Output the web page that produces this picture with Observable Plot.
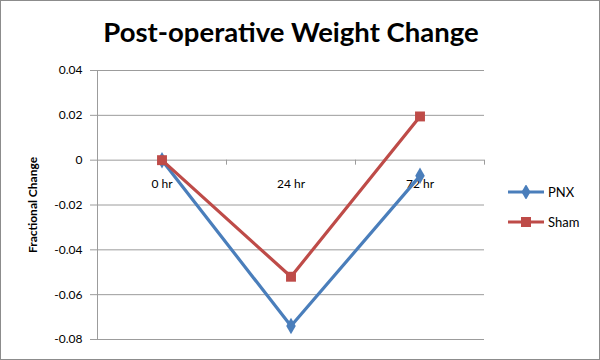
<!DOCTYPE html>
<html>
<head>
<meta charset="utf-8">
<script src="https://cdn.jsdelivr.net/npm/d3@7"></script>
<script src="https://cdn.jsdelivr.net/npm/@observablehq/plot@0.6"></script>
<style>
  html, body { margin: 0; padding: 0; background: #fff; }
  #wrap { position: relative; width: 600px; height: 360px; font-family: Lato, "Open Sans", sans-serif; }
  #border { position: absolute; left: 0; top: 0; width: 600px; height: 360px; box-sizing: border-box; border: 1px solid #8c8c8c; pointer-events: none; }
  #legend { position: absolute; left: 506px; top: 177px; font-size: 13px; color: #000; }
  #legend .item { display: flex; align-items: center; height: 30px; }
  #legend svg { margin-right: 2px; }
</style>
</head>
<body>
<div id="wrap">
  <div id="chart"></div>
  <div id="legend"></div>
  <div id="border"></div>
</div>
<script>
const categories = ["0 hr", "24 hr", "72 hr"];
const pnx = [0, -0.074, -0.007];
const sham = [0, -0.052, 0.0195];
const yTicks = [0.04, 0.02, 0, -0.02, -0.04, -0.06, -0.08];
const seriesNames = ["PNX", "Sham"];
const seriesColors = ["#4a7ebb", "#be4b48"];
const seriesSymbols = ["diamond", "square"];

const idx = categories.map((_, i) => i);
const boundaries = [-0.5, ...idx.map(i => i + 0.5)];
const rows = [];
[pnx, sham].forEach((vals, s) => vals.forEach((v, i) => rows.push({series: seriesNames[s], i, v})));

const gridColor = "#9c9c9c";

const plot = Plot.plot({
  width: 600,
  height: 360,
  marginLeft: 97,
  marginRight: 116,
  marginTop: 70,
  marginBottom: 21,
  style: {fontFamily: "Lato, 'Open Sans', sans-serif", background: "transparent"},
  x: {type: "linear", domain: [-0.5, 2.5], axis: null},
  y: {domain: [-0.08, 0.04], axis: null},
  marks: [
    Plot.ruleY(yTicks, {stroke: gridColor, strokeWidth: 1}),
    Plot.ruleX([boundaries[0]], {stroke: gridColor, strokeWidth: 1}),
    Plot.axisY({ticks: yTicks, tickFormat: d => d === 0 ? "0" : d.toFixed(2), tickSize: 7, tickPadding: 8, stroke: gridColor, fontSize: 12, color: "#000", label: null}),
    Plot.ruleX(boundaries, {x: d => d, y1: 0, y2: 0, insetBottom: -5, stroke: gridColor}),
    Plot.text(categories, {x: (d, i) => i, y: 0, text: d => d, dy: 24, fontSize: 12, fill: "#000"}),
    Plot.line(rows, {x: "i", y: "v", z: "series", stroke: d => seriesColors[seriesNames.indexOf(d.series)], strokeWidth: 3.2}),
    Plot.dot(rows.filter(d => d.series === "PNX"), {x: "i", y: "v", symbol: "diamond", r: 5, fill: seriesColors[0], stroke: "none"}),
    Plot.dot(rows.filter(d => d.series === "Sham"), {x: "i", y: "v", symbol: "square", r: 5.6, fill: seriesColors[1], stroke: "none"}),
    Plot.text(["Fractional Change"], {frameAnchor: "left", textAnchor: "middle", text: d => d, rotate: -90, dx: -64, fontSize: 12, fontWeight: "bold", fill: "#000"}),
    Plot.text(["Post-operative Weight Change"], {frameAnchor: "top", text: d => d, dy: -48, fontSize: 27.5, fontWeight: "bold", fill: "#000"})
  ]
});
document.getElementById("chart").appendChild(plot);

const legend = document.getElementById("legend");
seriesNames.forEach((name, s) => {
  const item = document.createElement("div");
  item.className = "item";
  const svg = d3.create("svg").attr("width", 40).attr("height", 14);
  svg.append("line").attr("x1", 2).attr("x2", 38).attr("y1", 7).attr("y2", 7).attr("stroke", seriesColors[s]).attr("stroke-width", 3.2);
  svg.append("path").attr("transform", "translate(20,7)").attr("d", d3.symbol(seriesSymbols[s] === "diamond" ? d3.symbolDiamond : d3.symbolSquare, seriesSymbols[s] === "diamond" ? 70 : 100)()).attr("fill", seriesColors[s]);
  item.appendChild(svg.node());
  const span = document.createElement("span");
  span.textContent = name;
  item.appendChild(span);
  legend.appendChild(item);
});
</script>
</body>
</html>
